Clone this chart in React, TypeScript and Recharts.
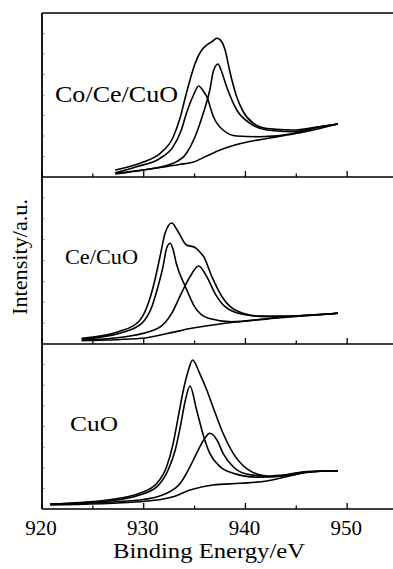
import { LineChart, Line, XAxis, YAxis } from "recharts";

// binding energy axis (eV)
const energyTicks = [920, 925, 930, 935, 940, 945, 950, 955];
const majorTicks = [920, 930, 940, 950];

// Co/Ce/CuO — [binding energy, intensity]
const coCeEnvelope = [
  [927.2, 7], [929.95, 15], [931.6, 23.5], [932.9, 40], [933.6, 60], [934.1, 80],
  [934.55, 97], [935.05, 113.5], [935.7, 127], [936.2, 132], [936.7, 135.3], [937.2, 138.7],
  [937.67, 135.3], [938.0, 127], [938.5, 104], [939.15, 80], [939.8, 65], [940.8, 53.5],
  [942.1, 48.5], [944.7, 47], [947.0, 50], [949.1, 53],
];
const coCePeakA = [
  [927.2, 4.3], [929.3, 10.3], [931.6, 18.7], [932.9, 30.3], [933.7, 47], [934.2, 63.7],
  [934.9, 82], [935.4, 91], [935.9, 85.3], [936.2, 80.3], [936.85, 60.3], [937.8, 47],
  [939.15, 41], [941.4, 40.3], [944.7, 43.5], [947.0, 49.5], [949.1, 53],
];
const coCePeakB = [
  [927.2, 3], [929.95, 7], [932.9, 13.7], [934.2, 23.7], [935.05, 40.3], [935.85, 63.7],
  [936.5, 87], [936.85, 106], [937.3, 113], [937.6, 107], [938.15, 90.3], [939.15, 67],
  [940.45, 53.7], [942.1, 47], [944.7, 45.3], [947.0, 49.5], [949.1, 53],
];
const coCeBackground = [
  [927.2, 3.7], [929.5, 6.5], [931.6, 9.5], [933.5, 12.5], [934.9, 15], [936.2, 21],
  [937.5, 27], [938.8, 31.5], [940.4, 35.5], [942.1, 38.5], [944.1, 42], [946.0, 45.5],
  [947.5, 49], [949.1, 53],
];

// Ce/CuO
const ceEnvelope = [
  [923.9, 5.7], [927.5, 12.3], [929.5, 22.3], [930.45, 40.7], [931.1, 64], [931.6, 87.3],
  [932.1, 110.7], [932.75, 121], [933.4, 112], [934.2, 99], [935.0, 96.7], [935.5, 92.3],
  [935.9, 87.3], [936.7, 67.3], [937.7, 47.3], [939.0, 34], [941.3, 28], [944.6, 28],
  [949.1, 30.7],
];
const cePeakA = [
  [923.9, 4.7], [927.8, 11.3], [929.8, 20.7], [930.8, 37.3], [931.4, 57.3], [931.9, 77.3],
  [932.25, 95.7], [932.6, 100.7], [932.9, 94], [933.2, 80.7], [934.1, 57.3], [935.0, 37.3],
  [936.35, 25.7], [938.65, 22.3], [942.9, 26.3], [949.1, 30.7],
];
const cePeakB = [
  [923.9, 4], [928.2, 7.3], [931.4, 15.7], [932.75, 30.7], [933.7, 50.7], [934.55, 67.3],
  [935.4, 78], [936.2, 67.3], [937.0, 50.7], [938.0, 37.3], [939.6, 30], [942.25, 27.3],
  [949.1, 30.7],
];
const ceBackground = [
  [923.9, 3.3], [929.8, 5.7], [932.4, 10.7], [934.7, 15.7], [938.0, 20.7], [942.9, 25.7],
  [949.1, 30.7],
];

// CuO
const cuoEnvelope = [
  [920.8, 5], [926.4, 9], [929.6, 15.7], [931.3, 25.7], [932.25, 42.3], [932.9, 65.7],
  [933.4, 92.3], [933.9, 119], [934.4, 139], [934.8, 149], [935.5, 135.7], [936.2, 119],
  [936.8, 102.3], [937.8, 75.7], [938.8, 55.7], [940.1, 40.7], [942.1, 33], [944.1, 34.5],
  [946.0, 37.5], [949.1, 38.3],
];
const cuoPeakA = [
  [920.8, 5], [926.4, 8], [929.6, 14], [931.3, 22.3], [932.4, 39], [933.1, 59],
  [933.6, 82.3], [934.1, 109], [934.55, 123], [935.2, 99], [935.9, 72.3], [936.5, 55.7],
  [937.5, 42.3], [938.8, 35.7], [941.1, 31.7], [943.4, 33], [946.0, 37], [949.1, 38.3],
];
const cuoPeakB = [
  [920.8, 4.7], [929.6, 9], [932.25, 15.7], [933.6, 25.7], [934.55, 42.3], [935.2, 55.7],
  [935.9, 69], [936.5, 75.7], [937.2, 69], [937.8, 55.7], [938.8, 42.3], [940.1, 35],
  [942.7, 32.3], [944.5, 34], [946.0, 37], [949.1, 38.3],
];
const cuoBackground = [
  [920.8, 4], [929.6, 7.3], [932.9, 12.3], [934.55, 19], [936.8, 24], [939.5, 25.7],
  [942.1, 28], [944.1, 32.5], [946.0, 36.5], [947.5, 37.8], [949.1, 38.3],
];

const FONT = "Liberation Serif";
const PAD = 6;
const toPoints = (pairs: number[][]) => pairs.map(([e, v]) => ({ e, v }));

const BottomTick = (props: any) => {
  const { x, y, payload, showLabel } = props;
  const major = majorTicks.includes(payload.value);
  return (
    <g>
      <line x1={x} y1={y} x2={x} y2={y - (major ? 6 : 3.5)} stroke="#000" strokeWidth={1.3} />
      {showLabel && major && (
        <text x={x - 1} y={y + 26} textAnchor="middle" fontSize={21} fontFamily={FONT} fill="#000">
          {payload.value}
        </text>
      )}
    </g>
  );
};

const TopTick = (props: any) => {
  const { x, y, payload } = props;
  const major = majorTicks.includes(payload.value);
  return <line x1={x} y1={y} x2={x} y2={y + (major ? 6 : 3.5)} stroke="#000" strokeWidth={1.3} />;
};

// faint inward ticks along the intensity axis
const LeftTick = (props: any) => {
  const { x, y } = props;
  return <line x1={x} y1={y} x2={x + 2.5} y2={y} stroke="#555" strokeWidth={0.8} />;
};

type PanelProps = {
  top: number;
  h: number;
  curves: number[][][];
  withLabels?: boolean;
  withTop?: boolean;
};

function Panel({ top, h, curves, withLabels, withTop }: PanelProps) {
  // axes need a non-zero box to be drawn at all
  const axisH = withLabels ? 40 : 1;
  const topH = withTop ? 1 : 0;
  const yTicks = [1, 2, 3, 4, 5, 6, 7].map((i) => (h * i) / 8);
  return (
    <div style={{ position: "absolute", left: 0, top: top - PAD - topH }}>
      <LineChart
        width={400}
        height={h + PAD * 2 + axisH + topH}
        margin={{ top: PAD, right: 2, bottom: PAD, left: 41 }}
      >
        <XAxis
          dataKey="e"
          type="number"
          domain={[920, 955]}
          ticks={energyTicks}
          interval={0}
          height={axisH}
          tickSize={0}
          tickMargin={0}
          tickLine={false}
          axisLine={{ stroke: "#000", strokeWidth: 1.6 }}
          tick={(p: any) => <BottomTick {...p} showLabel={withLabels} />}
        />
        {withTop && (
          <XAxis
            xAxisId="top"
            orientation="top"
            dataKey="e"
            type="number"
            domain={[920, 955]}
            ticks={energyTicks}
            interval={0}
            height={1}
            tickSize={0}
            tickMargin={0}
            tickLine={false}
            axisLine={{ stroke: "#000", strokeWidth: 1.6 }}
            tick={(p: any) => <TopTick {...p} />}
          />
        )}
        <YAxis
          type="number"
          domain={[0, h]}
          ticks={yTicks}
          interval={0}
          width={1}
          tickSize={0}
          tickMargin={0}
          tickLine={false}
          axisLine={{ stroke: "#000", strokeWidth: 1.8 }}
          tick={(p: any) => <LeftTick {...p} />}
        />
        {curves.map((c, i) => (
          <Line
            key={i}
            data={toPoints(c)}
            dataKey="v"
            type="monotone"
            stroke="#000"
            strokeWidth={1.6}
            dot={false}
            isAnimationActive={false}
          />
        ))}
      </LineChart>
    </div>
  );
}

export default function App() {
  return (
    <div
      style={{
        position: "absolute",
        left: 0,
        top: 0,
        width: 393,
        height: 569,
        overflow: "hidden",
        background: "#fff",
      }}
    >
      <Panel top={13} h={164} withTop curves={[coCeBackground, coCePeakA, coCePeakB, coCeEnvelope]} />
      <Panel top={177} h={167} curves={[ceBackground, cePeakA, cePeakB, ceEnvelope]} />
      <Panel top={344} h={165} withLabels curves={[cuoBackground, cuoPeakA, cuoPeakB, cuoEnvelope]} />
      <svg
        width={393}
        height={569}
        style={{ position: "absolute", left: 0, top: 0, pointerEvents: "none" }}
        fontFamily={FONT}
        fill="#000"
      >
        <text x={55} y={102} fontSize={24} textLength={123} lengthAdjust="spacingAndGlyphs">
          Co/Ce/CuO
        </text>
        <text x={65} y={264} fontSize={21} textLength={73} lengthAdjust="spacingAndGlyphs">
          Ce/CuO
        </text>
        <text x={70} y={431} fontSize={22} textLength={48} lengthAdjust="spacingAndGlyphs">
          CuO
        </text>
        <text x={209} y={558} fontSize={21} textAnchor="middle" textLength={192} lengthAdjust="spacingAndGlyphs">
          Binding Energy/eV
        </text>
        <text
          transform="translate(27,257) rotate(-90)"
          fontSize={21}
          textAnchor="middle"
          textLength={116}
          lengthAdjust="spacingAndGlyphs"
        >
          Intensity/a.u.
        </text>
      </svg>
    </div>
  );
}
